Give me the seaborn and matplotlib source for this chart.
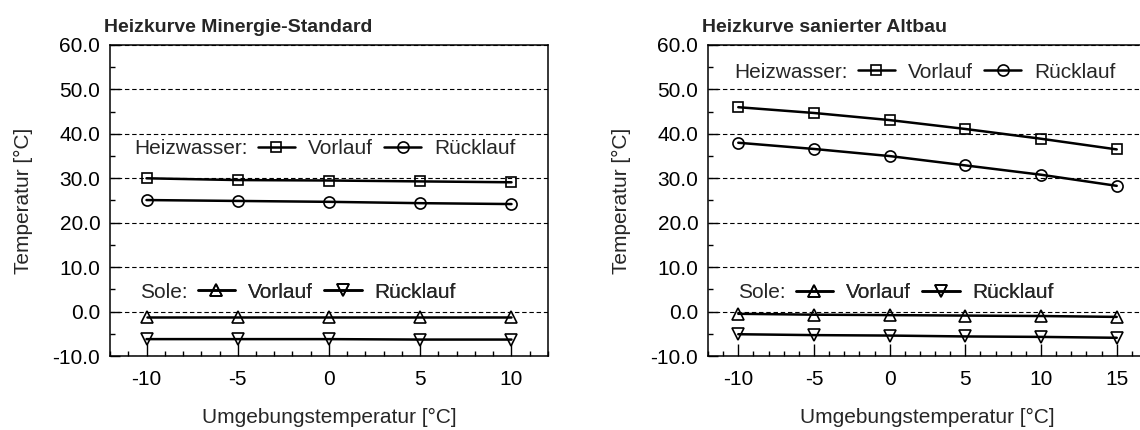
import matplotlib
matplotlib.use("Agg")
import matplotlib.pyplot as plt
from matplotlib.lines import Line2D
from matplotlib.ticker import MultipleLocator, FormatStrFormatter
import pandas as pd
import seaborn as sns

# --- data -----------------------------------------------------------------
x_minergie = [-10, -5, 0, 5, 10]
minergie_hw_vorlauf = [30.0, 29.6, 29.5, 29.3, 29.1]
minergie_hw_ruecklauf = [25.1, 24.9, 24.7, 24.4, 24.2]
minergie_sole_vorlauf = [-1.3, -1.3, -1.3, -1.3, -1.3]
minergie_sole_ruecklauf = [-6.2, -6.2, -6.2, -6.3, -6.3]

x_altbau = [-10, -5, 0, 5, 10, 15]
altbau_hw_vorlauf = [46.0, 44.7, 43.1, 41.1, 38.9, 36.5]
altbau_hw_ruecklauf = [38.0, 36.6, 35.0, 32.9, 30.8, 28.3]
altbau_sole_vorlauf = [-0.5, -0.7, -0.8, -0.9, -1.0, -1.2]
altbau_sole_ruecklauf = [-5.1, -5.3, -5.4, -5.6, -5.7, -5.9]

titles = ["Heizkurve Minergie-Standard", "Heizkurve sanierter Altbau"]
xlabel = "Umgebungstemperatur [°C]"
ylabel = "Temperatur [°C]"
series_labels = ["Vorlauf", "Rücklauf"]

# --- style ----------------------------------------------------------------
sns.set_style("ticks")
plt.rcParams["font.family"] = ["Liberation Sans", "DejaVu Sans"]
plt.rcParams["axes.unicode_minus"] = False
FS = 15

W, H = 1140, 430
fig = plt.figure(figsize=(W / 100, H / 100), dpi=100)


def px_axes(left, right, top, bottom):
    return fig.add_axes([left / W, 1 - bottom / H, (right - left) / W, (bottom - top) / H])


ax1 = px_axes(110, 548, 45, 356)
ax2 = px_axes(708, 1147, 45, 356)

markers = {"hw_v": "s", "hw_r": "o", "s_v": "^", "s_r": "v"}
msize = {"s": 7.8, "o": 8.0, "^": 9.0, "v": 9.0}
line_kw = dict(color="black", linewidth=1.8, markerfacecolor="none",
               markeredgecolor="black", markeredgewidth=1.2)


def draw_panel(ax, x, hv, hr, sv, sr, xlim, xmax_tick):
    df = pd.DataFrame({"x": x, "hw_v": hv, "hw_r": hr, "s_v": sv, "s_r": sr})
    for key in ["hw_v", "hw_r", "s_v", "s_r"]:
        m = markers[key]
        sns.lineplot(data=df, x="x", y=key, ax=ax, marker=m,
                     markersize=msize[m], clip_on=False, zorder=3, **line_kw)

    ax.set_xlim(*xlim)
    ax.set_ylim(-10, 60)
    ax.xaxis.set_major_locator(MultipleLocator(5))
    ax.xaxis.set_minor_locator(MultipleLocator(1))
    ax.yaxis.set_major_locator(MultipleLocator(10))
    ax.yaxis.set_minor_locator(MultipleLocator(5))
    ax.yaxis.set_major_formatter(FormatStrFormatter("%.1f"))
    ax.set_xticks(list(range(-10, xmax_tick + 1, 5)))

    ax.tick_params(axis="both", which="both", direction="in", colors="black",
                   labelsize=FS, width=1.0)
    ax.tick_params(axis="x", which="major", length=9, pad=10)
    ax.tick_params(axis="x", which="minor", length=3.5)
    ax.tick_params(axis="y", which="major", length=7, pad=7)
    ax.tick_params(axis="y", which="minor", length=3.5)

    ax.yaxis.grid(True, which="major", color="black", linewidth=0.8,
                  linestyle=(0, (4, 2.5)))
    ax.set_axisbelow(True)

    for sp in ax.spines.values():
        sp.set_color("black")
        sp.set_linewidth(1.1)

    ax.set_xlabel(xlabel, fontsize=FS, labelpad=14)
    ax.set_ylabel(ylabel, fontsize=FS, labelpad=14)


draw_panel(ax1, x_minergie, minergie_hw_vorlauf, minergie_hw_ruecklauf,
           minergie_sole_vorlauf, minergie_sole_ruecklauf, (-12, 12), 10)
draw_panel(ax2, x_altbau, altbau_hw_vorlauf, altbau_hw_ruecklauf,
           altbau_sole_vorlauf, altbau_sole_ruecklauf, (-12, 17), 15)
ax2.spines["right"].set_visible(False)

for ax, title in zip([ax1, ax2], titles):
    ax.annotate(title, xy=(0, 1), xycoords="axes fraction", xytext=(-4, 9),
                textcoords="offset points", fontsize=14, fontweight="bold",
                ha="left", va="baseline")


def handle(m):
    return Line2D([], [], marker=m, markersize=msize[m], **line_kw)


def inline_legend(ax, x_px, y_px, heading, m1, m2):
    """Heading text followed by a one-row legend, placed at pixel coords."""
    inv = ax.transAxes.inverted()
    xa, ya = inv.transform((x_px, H - y_px))
    txt = ax.text(xa, ya, heading, transform=ax.transAxes, fontsize=FS,
                  ha="left", va="center")
    fig.canvas.draw()
    bb = txt.get_window_extent()
    x_leg, _ = inv.transform((bb.x1 + 10, 0))
    leg = ax.legend([handle(m1), handle(m2)], series_labels, loc="center left",
                    bbox_to_anchor=(x_leg, ya), ncol=2, frameon=False,
                    fontsize=FS, handlelength=1.8, handletextpad=0.6,
                    columnspacing=0.55, borderpad=0, borderaxespad=0)
    ax.add_artist(leg)


inline_legend(ax1, 134, 149, "Heizwasser:", "s", "o")
inline_legend(ax1, 140, 292, "Sole:", "^", "v")
inline_legend(ax2, 734, 72, "Heizwasser:", "s", "o")
inline_legend(ax2, 738, 293, "Sole:", "^", "v")

fig.savefig("out.png", dpi=100)
